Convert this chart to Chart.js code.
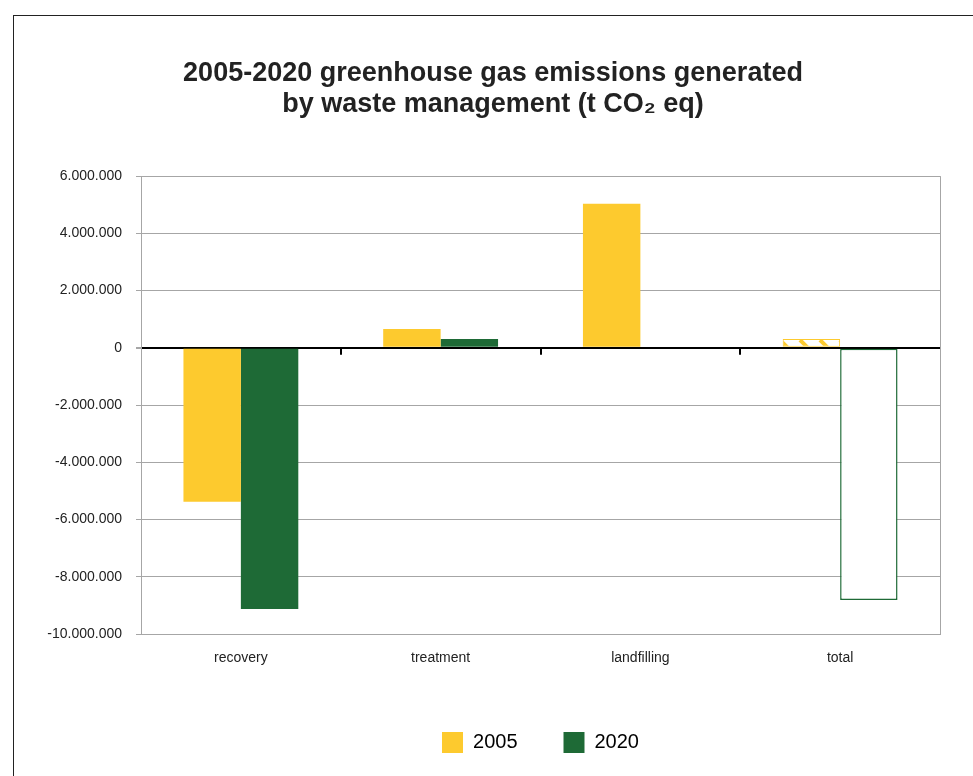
<!DOCTYPE html>
<html>
<head>
<meta charset="utf-8">
<script src="https://cdn.jsdelivr.net/npm/chart.js@4.4.1/dist/chart.umd.min.js"></script>
<style>
    body { margin: 0; background: #fff; }
    #wrap { position: relative; width: 973px; height: 776px; overflow: hidden; }
    #frame { position: absolute; left: 13px; top: 15px; width: 1000px; height: 800px;
             border-left: 1px solid #222; border-top: 1px solid #222; }
    canvas { position: absolute; left: 0; top: 0; }
</style>
</head>
<body>
<div id="wrap">
    <div id="frame"></div>
    <canvas id="wasteChart" width="973" height="776"></canvas>
</div>
<script>
// data
const categories = ['recovery', 'treatment', 'landfilling', 'total'];
const values2005 = [-5380000, 660000, 5030000, 310000];
const values2020 = [-9130000, 310000, 40000, -8810000];
const seriesLabels = ['2005', '2020'];
const yMin = -10000000;
const yMax = 6000000;
const yStep = 2000000;

const YELLOW = '#FDCA2E';
const GREEN = '#1E6A36';
const GRID = '#A6A6A6';
const FONT = "'Liberation Sans', Arial, sans-serif";

// hatch for the total 2005 bar
function makeHatch() {
    const c = document.createElement('canvas');
    c.width = 20; c.height = 20;
    const g = c.getContext('2d');
    g.fillStyle = '#fff';
    g.fillRect(0, 0, 20, 20);
    g.strokeStyle = YELLOW;
    g.lineWidth = 4;
    [-20, 0, 20].forEach(o => {
        g.beginPath();
        g.moveTo(o, 0);
        g.lineTo(o + 20, 20);
        g.stroke();
    });
    return g.createPattern(c, 'repeat');
}

function fmt(v) {
    const s = Math.abs(v).toString().replace(/\B(?=(\d{3})+(?!\d))/g, '.');
    return (v < 0 ? '-' : '') + s;
}

// right border + small tick marks on the zero line
const extras = {
    id: 'extras',
    beforeDatasetsDraw(chart) {
        const { ctx, chartArea } = chart;
        ctx.save();
        ctx.strokeStyle = GRID;
        ctx.lineWidth = 1;
        ctx.beginPath();
        ctx.moveTo(chartArea.right + 0.5, chartArea.top);
        ctx.lineTo(chartArea.right + 0.5, chartArea.bottom);
        ctx.stroke();
        ctx.restore();
    },
    afterDatasetsDraw(chart) {
        const { ctx, scales } = chart;
        const y0 = scales.y.getPixelForValue(0);
        ctx.save();
        ctx.strokeStyle = '#000';
        ctx.lineWidth = 2;
        for (let i = 1; i < categories.length; i++) {
            const x = Math.round((scales.x.getPixelForValue(i - 1) + scales.x.getPixelForValue(i)) / 2);
            ctx.beginPath();
            ctx.moveTo(x, y0);
            ctx.lineTo(x, y0 + 7);
            ctx.stroke();
        }
        ctx.restore();
    }
};

const ctx = document.getElementById('wasteChart');
const hatch = makeHatch();

new Chart(ctx, {
    type: 'bar',
    data: {
        labels: categories,
        datasets: [{
            label: seriesLabels[0],
            data: values2005,
            backgroundColor: [YELLOW, YELLOW, YELLOW, hatch],
            borderColor: YELLOW,
            borderWidth: [0, 0, 0, 1],
            borderSkipped: false
        }, {
            label: seriesLabels[1],
            data: values2020,
            backgroundColor: [GREEN, GREEN, GREEN, '#fff'],
            borderColor: GREEN,
            borderWidth: [0, 0, 0, 1.5],
            borderSkipped: false
        }]
    },
    options: {
        responsive: false,
        animation: false,
        layout: { padding: { top: 58, right: 33, bottom: 13, left: 46 } },
        datasets: {
            bar: { categoryPercentage: 0.575, barPercentage: 1 }
        },
        plugins: {
            title: {
                display: true,
                text: ['2005-2020 greenhouse gas emissions generated', 'by waste management (t CO\u2082 eq)'],
                color: '#222',
                font: { family: FONT, size: 27, weight: 'bold', lineHeight: 1.15 },
                padding: { top: 0, bottom: 56 }
            },
            legend: {
                position: 'bottom',
                fullSize: false,
                labels: {
                    color: '#222',
                    font: { family: FONT, size: 20 },
                    boxWidth: 21,
                    boxHeight: 21,
                    padding: 46,
                    generateLabels() {
                        return [
                            { text: seriesLabels[0], fillStyle: YELLOW, strokeStyle: YELLOW, lineWidth: 0, datasetIndex: 0 },
                            { text: seriesLabels[1], fillStyle: GREEN, strokeStyle: GREEN, lineWidth: 0, datasetIndex: 1 }
                        ];
                    }
                }
            },
            tooltip: { enabled: false }
        },
        scales: {
            x: {
                grid: { display: false, drawTicks: false },
                border: { display: true, color: GRID, width: 1 },
                ticks: { color: '#222', font: { family: FONT, size: 14 }, padding: 16 },
                afterFit(scale) { scale.height = 52; }
            },
            y: {
                min: yMin,
                max: yMax,
                border: { display: true, color: GRID, width: 1 },
                grid: {
                    color: c => (c.tick && c.tick.value === 0) ? '#000' : GRID,
                    lineWidth: c => (c.tick && c.tick.value === 0) ? 2 : 1,
                    tickColor: GRID,
                    tickLength: 5
                },
                ticks: {
                    stepSize: yStep,
                    color: '#222',
                    font: { family: FONT, size: 14 },
                    padding: 14,
                    callback: v => fmt(v)
                },
                afterFit(scale) { scale.width = 95; }
            }
        }
    },
    plugins: [extras]
});
</script>
</body>
</html>
